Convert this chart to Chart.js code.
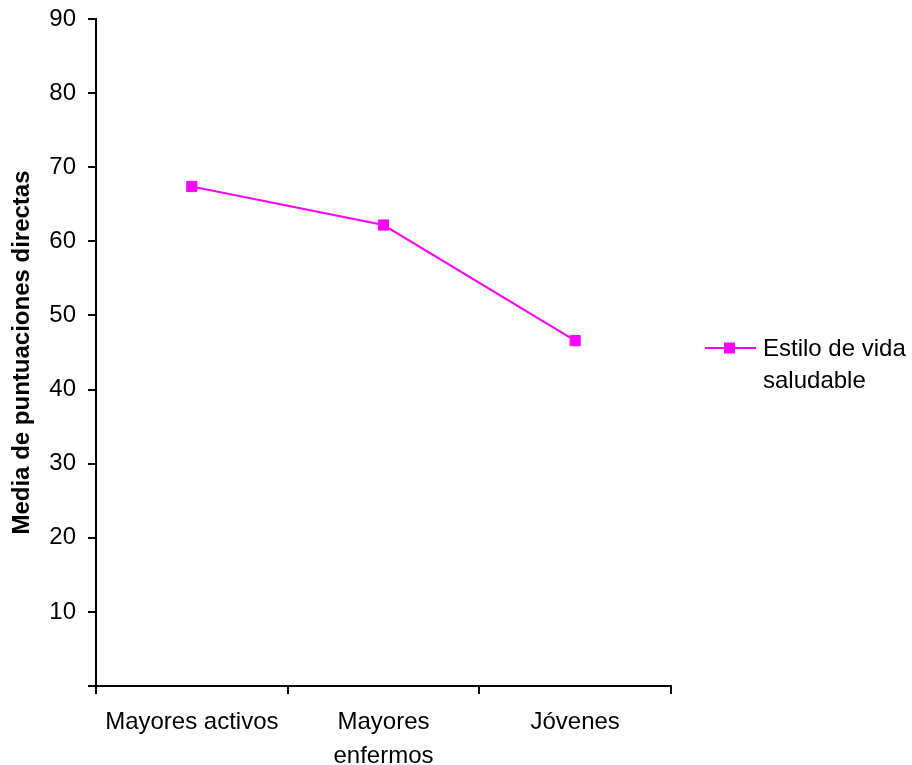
<!DOCTYPE html>
<html>
<head>
<meta charset="utf-8">
<script src="https://cdn.jsdelivr.net/npm/chart.js@4/dist/chart.umd.min.js"></script>
<style>
  html, body { margin: 0; padding: 0; background: #ffffff; }
  #wrap { width: 912px; height: 765px; }
</style>
</head>
<body>
<div id="wrap"><canvas id="chart" width="912" height="765"></canvas></div>
<script>
// Groups on the horizontal axis
const categories = ['Mayores activos', ['Mayores', 'enfermos'], 'Jóvenes'];
// Mean raw score per group
const values = [67.4, 62.2, 46.6];
// Series name, split over two legend lines
const seriesLines = ['Estilo de vida', 'saludable'];
// Vertical axis range
const yMin = 0;
const yMax = 90;
const yStep = 10;

const FONT = "'Liberation Sans', Arial, sans-serif";
const MAGENTA = '#ff00ff';

// Legend at the right of the plot: line with a square marker, two text lines
const sideLegend = {
  id: 'sideLegend',
  afterDraw(chart) {
    const ctx = chart.ctx;
    const ds = chart.data.datasets[0];
    const y = 348;
    ctx.save();
    ctx.strokeStyle = ds.borderColor;
    ctx.lineWidth = ds.borderWidth;
    ctx.beginPath();
    ctx.moveTo(705, y);
    ctx.lineTo(756, y);
    ctx.stroke();
    ctx.fillStyle = ds.pointBackgroundColor;
    ctx.fillRect(724, y - 5.5, 11, 11);
    ctx.fillStyle = '#000000';
    ctx.font = '24px ' + FONT;
    ctx.textBaseline = 'middle';
    ctx.textAlign = 'left';
    seriesLines.forEach((t, i) => ctx.fillText(t, 763, y + 1 + i * 32));
    ctx.restore();
  }
};

new Chart(document.getElementById('chart'), {
  type: 'line',
  data: {
    labels: categories,
    datasets: [{
      label: seriesLines.join(' '),
      data: values,
      borderColor: MAGENTA,
      backgroundColor: MAGENTA,
      borderWidth: 2,
      pointStyle: 'rect',
      pointRadius: 7.2,
      pointBorderWidth: 1,
      pointBackgroundColor: MAGENTA,
      pointBorderColor: MAGENTA,
      tension: 0,
      fill: false
    }]
  },
  options: {
    responsive: false,
    devicePixelRatio: 1,
    animation: false,
    layout: { padding: { left: 0, top: 19, right: 241, bottom: 0 } },
    plugins: {
      legend: { display: false },
      tooltip: { enabled: false }
    },
    scales: {
      x: {
        type: 'category',
        offset: true,
        afterFit(scale) { scale.height = 79; },
        border: { display: true, color: '#000000', width: 2 },
        grid: {
          offset: true,
          drawOnChartArea: false,
          drawTicks: true,
          tickLength: 8,
          color: '#000000',
          lineWidth: 2
        },
        ticks: {
          color: '#000000',
          font: { family: FONT, size: 24, lineHeight: 1.4 },
          padding: 12,
          maxRotation: 0,
          autoSkip: false
        }
      },
      y: {
        min: yMin,
        max: yMax,
        afterFit(scale) {
          scale.width = 96;
          scale.paddingTop = 0;
          scale.paddingBottom = 0;
        },
        border: { display: true, color: '#000000', width: 2 },
        grid: {
          drawOnChartArea: false,
          drawTicks: true,
          tickLength: 8,
          color: '#000000',
          lineWidth: 2
        },
        ticks: {
          stepSize: yStep,
          color: '#000000',
          font: { family: FONT, size: 24 },
          padding: 12,
          callback: (v) => (v === 0 ? '' : String(v))
        },
        title: {
          display: true,
          text: 'Media de puntuaciones directas',
          color: '#000000',
          font: { family: FONT, size: 24, weight: 'bold', lineHeight: 1.2 },
          padding: { top: 8, bottom: 0 }
        }
      }
    }
  },
  plugins: [sideLegend]
});
</script>
</body>
</html>
